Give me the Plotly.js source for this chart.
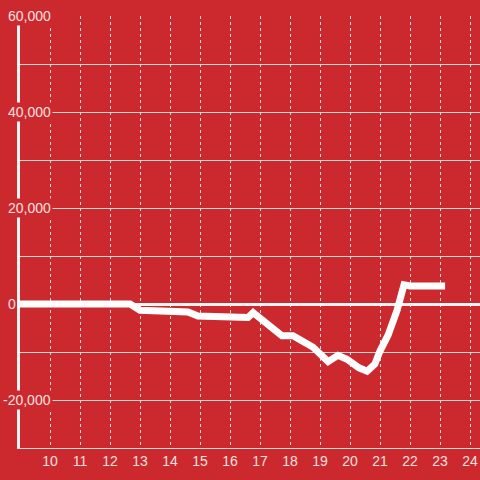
<!DOCTYPE html>
<html>
<head>
<meta charset="utf-8">
<script src="https://cdn.plot.ly/plotly-3.0.1.min.js"></script>
<style>html,body{margin:0;padding:0;background:#CC292E;}#chart{width:480px;height:480px;}</style>
</head>
<body>
<div id="chart"></div>
<script>
// Data
const xValues = [9, 12.67, 13.0, 14.0, 14.6, 14.93, 16.4, 16.6, 16.77, 17.73, 18.1, 18.77, 19.27, 19.6, 19.9, 20.3, 20.57, 20.83, 21.0, 21.27, 21.57, 21.8, 22.0, 23.17];
const yValues = [0, 0, -1300, -1500, -1650, -2500, -2500, -2800, -1800, -6600, -6600, -9000, -12000, -10700, -11500, -13300, -14000, -12500, -9800, -6500, -1300, 4000, 3750, 3750];
const xTickVals = [10, 11, 12, 13, 14, 15, 16, 17, 18, 19, 20, 21, 22, 23, 24];
const xTickText = ['10', '11', '12', '13', '14', '15', '16', '17', '18', '19', '20', '21', '22', '23', '24'];
const yLabelVals = [60000, 40000, 20000, 0, -20000];
const yLabelText = ['60,000', '40,000', '20,000', '0', '-20,000'];

const BG = '#CC292E';
const TXT = '#f5e0e0';
const FONT = 'Liberation Sans, Arial, sans-serif';

const annotations = yLabelVals.map((v, i) => ({
  xref: 'paper', yref: 'y',
  x: v === 0 ? -2 / 460 : 33 / 460,
  y: v,
  xanchor: 'right', yanchor: 'middle',
  text: yLabelText[i],
  showarrow: false,
  bgcolor: v === 0 ? 'rgba(0,0,0,0)' : BG,
  borderpad: 1,
  font: {family: FONT, size: 14, color: TXT}
}));

const trace = {
  x: xValues, y: yValues,
  type: 'scatter', mode: 'lines',
  line: {color: '#ffffff', width: 7},
  hoverinfo: 'none'
};

const layout = {
  width: 480, height: 480,
  margin: {l: 20, r: 0, t: 16, b: 32},
  paper_bgcolor: BG, plot_bgcolor: BG,
  showlegend: false,
  font: {family: FONT, size: 14, color: TXT},
  xaxis: {
    range: [9, 24.3333],
    tickvals: xTickVals, ticktext: xTickText,
    ticks: '', showgrid: true, gridcolor: '#dcdcdc', gridwidth: 1, griddash: 'dot',
    zeroline: false,
    showline: true, linecolor: '#dcdcdc', linewidth: 1,
    tickfont: {family: FONT, size: 14, color: TXT}
  },
  yaxis: {
    range: [-30000, 60000],
    dtick: 10000, tick0: 0,
    showticklabels: false, ticks: '',
    showgrid: true, gridcolor: '#d9d9d9', gridwidth: 1,
    zeroline: true, zerolinecolor: '#f4f4f4', zerolinewidth: 3,
    showline: true, linecolor: '#f4f4f4', linewidth: 3
  },
  annotations: annotations
};

Plotly.newPlot('chart', [trace], layout, {staticPlot: true, displayModeBar: false});
</script>
</body>
</html>
